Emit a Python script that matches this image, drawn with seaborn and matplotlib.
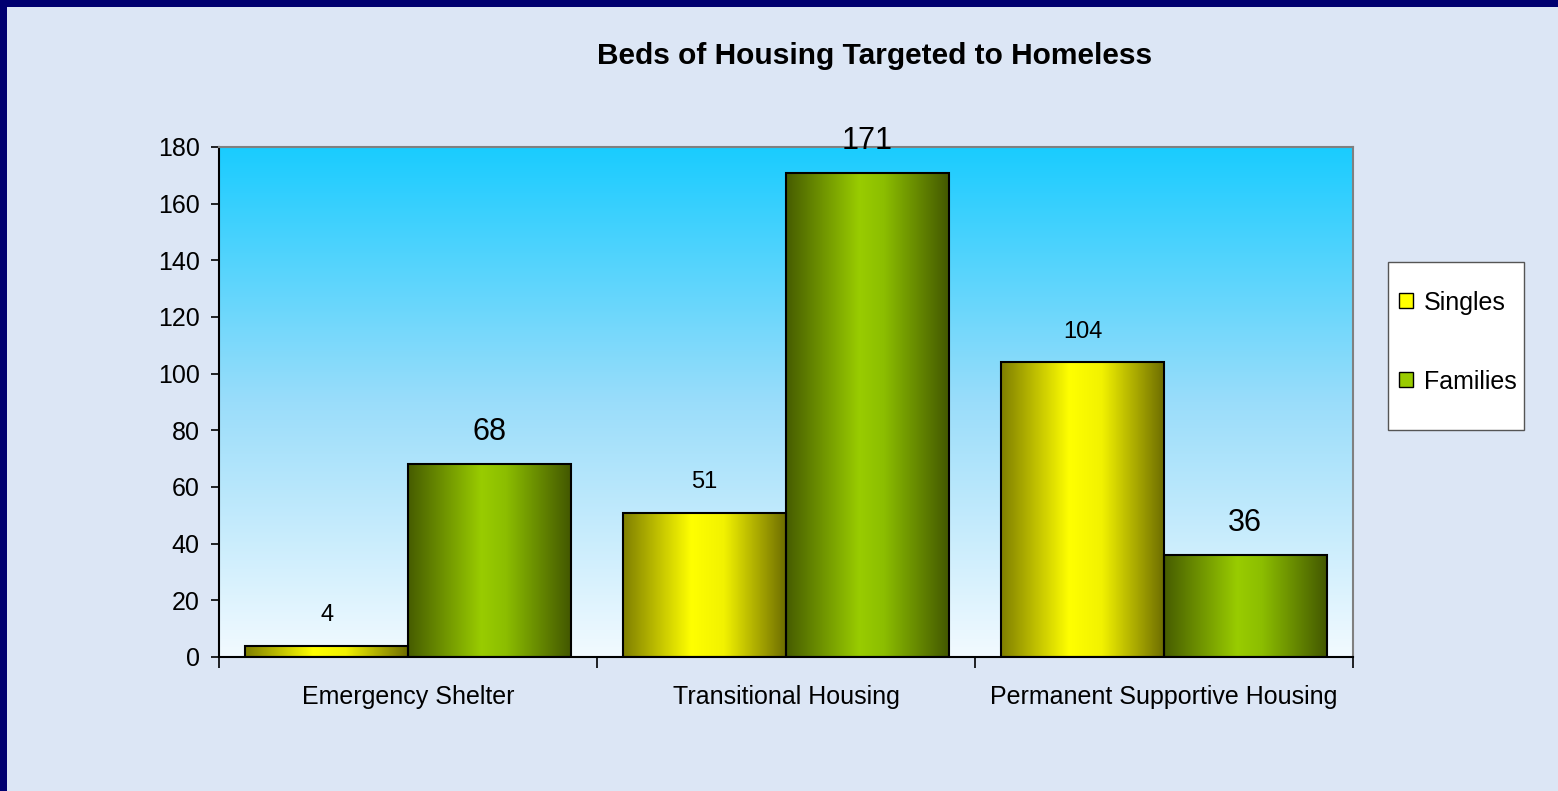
# Beds of housing targeted to homeless - grouped bars with Excel-like gradients
import numpy as np
import pandas as pd
import seaborn as sns
import matplotlib.pyplot as plt
from matplotlib.colors import LinearSegmentedColormap
from matplotlib.patches import Rectangle, Patch

# data
categories = ["Emergency Shelter", "Transitional Housing", "Permanent Supportive Housing"]
series_names = ["Singles", "Families"]
singles = [4, 51, 104]
families = [68, 171, 36]
y_ticks = [0, 20, 40, 60, 80, 100, 120, 140, 160, 180]
title = "Beds of Housing Targeted to Homeless"

df = pd.DataFrame({
    "type": categories * 2,
    "group": [series_names[0]] * 3 + [series_names[1]] * 3,
    "beds": singles + families,
})

sns.set_theme(style="white")
plt.rcParams["font.family"] = ["Liberation Sans", "DejaVu Sans"]
plt.rcParams["text.color"] = "black"

W, H = 1558, 791
fig = plt.figure(figsize=(W / 100, H / 100), dpi=100, facecolor="#DCE6F5")
ax = fig.add_axes([219 / W, 1 - 657 / H, (1353 - 219) / W, (657 - 147) / H])

sns.barplot(data=df, x="type", y="beds", hue="group", hue_order=series_names,
            width=0.86, palette=["#FFFF00", "#99CC00"], saturation=1,
            edgecolor="black", linewidth=1.5, legend=False, ax=ax)

# gradient fills
singles_cmap = LinearSegmentedColormap.from_list(
    "s", [(0, "#7F7F00"), (0.42, "#FFFF00"), (0.62, "#F2F200"), (1, "#6E6E00")])
families_cmap = LinearSegmentedColormap.from_list(
    "f", [(0, "#465C00"), (0.45, "#99CC00"), (0.6, "#8CBE00"), (1, "#435800")])
bg_cmap = LinearSegmentedColormap.from_list(
    "bg", [(0, "#1ACCFF"), (0.5, "#9ADDFA"), (1, "#F2FAFF")])

grad = np.linspace(0, 1, 256).reshape(1, -1)
for cont, cmap in zip(ax.containers, [singles_cmap, families_cmap]):
    for bar in cont:
        x0, w, h = bar.get_x(), bar.get_width(), bar.get_height()
        ax.imshow(grad, extent=[x0, x0 + w, 0, h], aspect="auto", cmap=cmap,
                  interpolation="bicubic", zorder=2)
        bar.set_facecolor("none")
        bar.set_zorder(3)

ax.set_facecolor("none")
ax.imshow(np.linspace(0, 1, 256).reshape(-1, 1), extent=[0, 1, 0, 1],
          transform=ax.transAxes, aspect="auto", cmap=bg_cmap, zorder=0)

# value labels
for cont, vals, size, off in zip(ax.containers, [singles, families], [17, 22], [22, 23]):
    for bar, v in zip(cont, vals):
        ax.annotate(str(v), (bar.get_x() + bar.get_width() / 2, v),
                    xytext=(0, off), textcoords="offset points",
                    ha="center", va="center", fontsize=size, color="black", zorder=5)

ax.set_xlim(-0.5, 2.5)
ax.set_ylim(0, 180)
ax.set_yticks(y_ticks)
ax.set_xlabel("")
ax.set_ylabel("")
ax.tick_params(axis="y", left=True, direction="out", length=6, width=1.2,
               color="black", labelcolor="black", labelsize=18, pad=8)
ax.set_xticks([-0.5, 0.5, 1.5, 2.5], minor=True)
ax.tick_params(axis="x", which="minor", bottom=True, direction="out",
               length=8, width=1.2, color="black")
ax.tick_params(axis="x", which="major", length=0, labelsize=18,
               labelcolor="black", pad=20)
for side in ["left", "bottom"]:
    ax.spines[side].set_color("black")
    ax.spines[side].set_linewidth(1.5)
for side in ["top", "right"]:
    ax.spines[side].set_color("#808080")
    ax.spines[side].set_linewidth(1.5)

fig.text(875 / W, 1 - 56 / H, title, ha="center", va="center",
         fontsize=21.5, fontweight="bold", color="black")

# legend box
fig.patches.append(Rectangle((1388 / W, 1 - 430 / H), 136 / W, 168 / H,
                             transform=fig.transFigure, facecolor="white",
                             edgecolor="#555555", linewidth=1, zorder=1))
handles = [Patch(facecolor="#FFFF00", edgecolor="black"),
           Patch(facecolor="#99CC00", edgecolor="black")]
leg = fig.legend(handles, series_names, loc="center", bbox_to_anchor=(1458 / W, 1 - 342 / H),
                 frameon=False, fontsize=18, labelspacing=2.2, handlelength=0.55,
                 handleheight=0.55, handletextpad=0.45)
for t in leg.get_texts():
    t.set_color("black")

# dark navy frame on top and left edges
fig.patches.append(Rectangle((0, 1 - 7 / H), 1, 7 / H, transform=fig.transFigure,
                             facecolor="#000070", edgecolor="none", zorder=2))
fig.patches.append(Rectangle((0, 0), 7 / W, 1, transform=fig.transFigure,
                             facecolor="#000070", edgecolor="none", zorder=2))

fig.savefig("out.png", dpi=100, facecolor=fig.get_facecolor())
